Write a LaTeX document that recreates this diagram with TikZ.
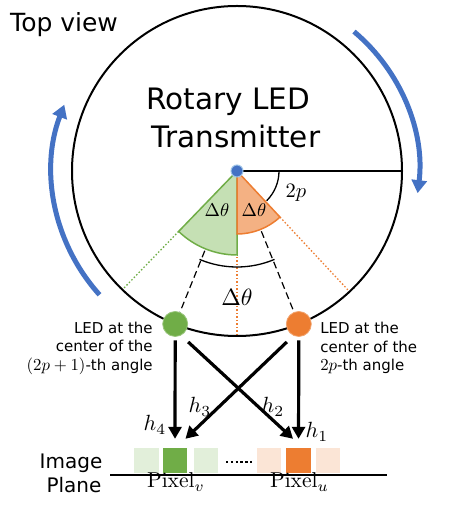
\documentclass[tikz,border=0pt]{standalone}
\usepackage{fix-cm}
\usepackage{graphicx}
\usepackage[no-math]{fontspec}
\setmainfont{DejaVu Sans}
\usetikzlibrary{arrows.meta,calc}
\definecolor{ledgreen}{HTML}{70AD47}
\definecolor{ledorange}{HTML}{ED7D31}
\definecolor{lgreen}{HTML}{C5E0B4}
\definecolor{lorange}{HTML}{F4B183}
\definecolor{pgreen}{HTML}{E2EFDA}
\definecolor{porange}{HTML}{FBE5D6}
\definecolor{rotblue}{HTML}{4472C4}
\definecolor{dotrim}{HTML}{9DC3E6}
\newcommand{\ledmath}[1]{\scalebox{1.12}{$#1$}}
\tikzset{
  rotarrow/.style={draw=rotblue, line width=5pt, -{Triangle[width=15pt,length=13pt]}},
  bigarrow/.style={draw=black, line width=3.2pt, -{Triangle[width=13pt,length=12pt]}},
  dashedline/.style={draw=black, line width=1.2pt, dash pattern=on 7pt off 4pt},
  ledbox/.style={circle, minimum size=25pt, inner sep=0pt},
  pixbox/.style={rectangle, minimum width=24.5pt, minimum height=25pt, inner sep=0pt},
  mathlabel/.style={font=\fontsize{10}{12}\selectfont, inner sep=0pt, scale=#1},
  ledtext/.style={font=\fontsize{10}{12.33}\selectfont, inner sep=0pt, scale=1.5},
}
\begin{document}
\begin{tikzpicture}[x=1pt,y=1pt]
\useasboundingbox (0,0) rectangle (474,511);
\coordinate (C) at (237,340);
\coordinate (E) at ($(C)+(0:165pt)$);
% sectors
\filldraw[fill=lgreen, draw=ledgreen, line width=1.5pt] (C) -- ($(C)+(-134:84pt)$) arc[start angle=-134, end angle=-90, radius=84pt] -- cycle;
\filldraw[fill=lorange, draw=ledorange, line width=1.5pt] (C) -- ($(C)+(-90:63pt)$) arc[start angle=-90, end angle=-47, radius=63pt] -- cycle;
% dotted extensions
\draw[ledgreen, line width=1.3pt, dash pattern=on 1.5pt off 2pt] ($(C)+(-134:84pt)$) -- ($(C)+(-134:165pt)$);
\draw[ledorange, line width=1.3pt, dash pattern=on 1.5pt off 2pt] ($(C)+(-47:63pt)$) -- ($(C)+(-47:165pt)$);
\draw[ledorange, line width=1.3pt, dash pattern=on 1.5pt off 2pt] ($(C)+(-90:86pt)$) -- ($(C)+(-90:165pt)$);
% horizontal radius and angle 2p
\draw[line width=1.5pt] (C) -- (E);
\draw[line width=1.3pt] ($(C)+(0:42pt)$) arc[start angle=0, end angle=-45, radius=42pt];
\node[mathlabel=2.05] (twop) at (296,318) {$2p$};
% main circle
\draw[line width=2pt] (C) circle (165pt);
% LEDs
\node[ledbox, fill=ledgreen, draw=ledgreen!70!white, line width=0.8pt] (gled) at ($(C)+(-112:165pt)$) {};
\node[ledbox, fill=ledorange, draw=ledorange!70!white, line width=0.8pt] (oled) at ($(C)+(-68:165pt)$) {};
% dashed lines to LEDs
\draw[dashedline] ($(C)!86pt!(gled)$) -- (gled);
\draw[dashedline] ($(C)!65pt!(oled)$) -- (oled);
% big delta theta arc
\draw[line width=1.3pt] ($(C)+(-113:96pt)$) arc[start angle=-113, end angle=-67, radius=96pt];
\node[mathlabel=2.35] (bigdt) at (237,214) {$\Delta\theta$};
\node[mathlabel=1.85] (gdt) at (217,301) {$\Delta\theta$};
\node[mathlabel=1.85] (odt) at (254,301) {$\Delta\theta$};
% center dot
\node[circle, minimum size=12pt, inner sep=0pt, fill=rotblue, draw=dotrim, line width=1pt] (dot) at (C) {};
% titles
\node[anchor=base west, font=\fontsize{25}{30}\selectfont, inner sep=0pt] (title) at (10,479) {Top view};
\node[anchor=base, font=\fontsize{29.5}{34}\selectfont, inner sep=0pt] (rot1) at (228,401) {Rotary LED};
\node[anchor=base, font=\fontsize{29.5}{34}\selectfont, inner sep=0pt] (rot2) at (236,363) {Transmitter};
% rotation arrows
\draw[rotarrow] ($(C)+(50:182pt)$) arc[start angle=50, end angle=-7, radius=182pt];
\draw[rotarrow] ($(C)+(222:185pt)$) arc[start angle=222, end angle=159, radius=185pt];
% LED labels
\node[ledtext, anchor=east, align=right] (gtext) at (153,163) {LED at the\\center of the\\\ledmath{(2p+1)}-th angle};
\node[ledtext, anchor=west, align=left] (otext) at (320,163) {LED at the\\center of the\\\ledmath{2p}-th angle};
% image plane pixels
\node[pixbox, fill=pgreen] (gpa) at (146.5,50.5) {};
\node[pixbox, fill=ledgreen] (gpx) at (175,50.5) {};
\node[pixbox, fill=pgreen] (gpb) at (206,50.5) {};
\node[pixbox, fill=porange] (opa) at (269,50.5) {};
\node[pixbox, fill=ledorange] (opx) at (298.5,50.5) {};
\node[pixbox, fill=porange] (opb) at (328,50.5) {};
\coordinate (dl) at (226,49);
\coordinate (dr) at (254,49);
\draw[line width=2.4pt, dash pattern=on 2.3pt off 2.5pt] (dl) -- (dr);
\coordinate (pl) at (110,36);
\coordinate (pr) at (387,36);
\draw[line width=2.5pt] (pl) -- (pr);
\node[anchor=base, font=\fontsize{20}{24}\selectfont, inner sep=0pt] (img1) at (71,42) {Image};
\node[anchor=base, font=\fontsize{20}{24}\selectfont, inner sep=0pt] (img2) at (74,18) {Plane};
\node[anchor=base, mathlabel=2.15] (pv) at (176,23) {$\mathrm{Pixel}_v$};
\node[anchor=base, mathlabel=2.15] (pu) at (299.5,23) {$\mathrm{Pixel}_u$};
% channel arrows
\draw[bigarrow, shorten <=3.5pt, shorten >=9pt] (gled.south) -- (gpx.north);
\draw[bigarrow, shorten <=3.5pt, shorten >=9pt] (oled.south) -- (opx.north);
\draw[bigarrow] ($(gled)+(13,-18)$) -- ($(opx.north west)+(7,9)$);
\draw[bigarrow] ($(oled)+(-12,-18)$) -- ($(gpx.north east)+(-2,9)$);
\node[mathlabel=2.2] (h4) at (155,86) {$h_4$};
\node[mathlabel=2.2] (h3) at (200,104) {$h_3$};
\node[mathlabel=2.2] (h2) at (273,104) {$h_2$};
\node[mathlabel=2.2] (h1) at (317,79) {$h_1$};
\end{tikzpicture}
\end{document}
